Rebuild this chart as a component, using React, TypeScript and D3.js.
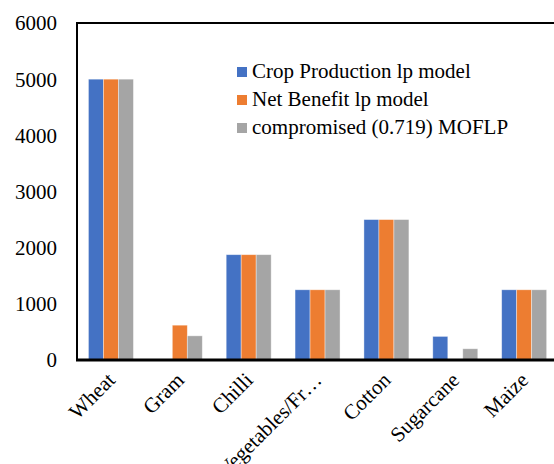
import React from "react";
import * as d3 from "d3";

const categories = ["Wheat", "Gram", "Chilli", "Vegetables/Fr…", "Cotton", "Sugarcane", "Maize"];
const seriesNames = ["Crop Production lp model", "Net Benefit lp model", "compromised (0.719) MOFLP"];
const cropProduction = [5000, 0, 1875, 1250, 2500, 420, 1250];
const netBenefit = [5000, 620, 1875, 1250, 2500, 0, 1250];
const compromised = [5000, 430, 1875, 1250, 2500, 200, 1250];
const yTicks = [0, 1000, 2000, 3000, 4000, 5000, 6000];
const colors = ["#4472C4", "#ED7D31", "#A5A5A5"];

const W = 554;
const H = 464;
const FONT = "'Liberation Serif', 'Times New Roman', serif";

export default function App() {
  const series = [cropProduction, netBenefit, compromised];
  const plotLeft = 77;
  const plotTop = 23;
  const plotBottom = 360;
  const plotRight = 558.6;

  const x0 = d3
    .scaleBand<string>()
    .domain(categories)
    .range([76.5, plotRight])
    .paddingInner(0.347)
    .paddingOuter(0.1735);
  const x1 = d3
    .scaleBand<string>()
    .domain(seriesNames)
    .range([0, x0.bandwidth()])
    .padding(0);
  const y = d3.scaleLinear().domain([0, 6000]).range([plotBottom, plotTop]);

  return (
    <svg
      width={W}
      height={H}
      style={{ position: "absolute", left: 0, top: 0, background: "#fff" }}
      fontFamily={FONT}
    >
      <rect x={0} y={0} width={W} height={H} fill="#fff" />
      {/* bars */}
      {categories.map((c, i) => (
        <g key={c} transform={`translate(${x0(c)},0)`}>
          {seriesNames.map((s, j) => {
            const v = series[j][i];
            if (!v) return null;
            return (
              <rect
                key={s}
                x={x1(s)}
                y={y(v)}
                width={x1.bandwidth()}
                height={y(0) - y(v)}
                fill={colors[j]}
                stroke="#ffffff"
                strokeOpacity={0.5}
                strokeWidth={0.75}
              />
            );
          })}
        </g>
      ))}
      {/* frame */}
      <line x1={plotLeft - 1} x2={W} y1={plotTop} y2={plotTop} stroke="#000" strokeWidth={2} />
      <line x1={plotLeft} x2={plotLeft} y1={plotTop - 1} y2={plotBottom} stroke="#000" strokeWidth={2} />
      <line x1={plotLeft - 1} x2={W} y1={plotBottom} y2={plotBottom} stroke="#000" strokeWidth={3} />
      {/* y tick labels */}
      {yTicks.map((t) => (
        <text key={t} x={57} y={y(t)} dy="0.35em" textAnchor="end" fontSize={21} fill="#000">
          {t}
        </text>
      ))}
      {/* x labels */}
      {categories.map((c) => {
        const cx = (x0(c) as number) + x0.bandwidth() / 2;
        return (
          <text
            key={c}
            transform={`translate(${cx - 5},${plotBottom + 11}) rotate(-45)`}
            textAnchor="end"
            dy="0.7em"
            fontSize={21}
            fill="#000"
          >
            {c}
          </text>
        );
      })}
      {/* legend */}
      {seriesNames.map((s, j) => (
        <g key={s} transform={`translate(237,${72 + j * 28})`}>
          <rect x={0} y={-5} width={10} height={10} fill={colors[j]} />
          <text x={15} y={6} fontSize={21} fill="#000">
            {s}
          </text>
        </g>
      ))}
    </svg>
  );
}
